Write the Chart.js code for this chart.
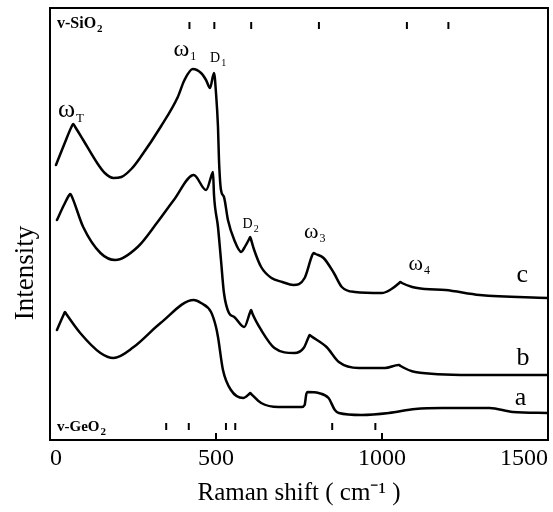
<!DOCTYPE html>
<html><head><meta charset="utf-8">
<script src="https://cdn.jsdelivr.net/npm/chart.js@4"></script>
<style>html,body{margin:0;padding:0;background:#fff}#wrap{width:553px;height:512px}</style>
</head><body><div id="wrap"><canvas id="c" width="553" height="512"></canvas></div>
<script>
// Raman shift (cm-1) and intensity (arbitrary units, offset curves)
const shiftC = [18, 42, 66, 70, 76, 100, 142, 165, 191, 215, 245, 273, 333, 385, 405, 430, 455, 470, 482, 494, 500, 506, 509, 515, 524, 536, 555, 576, 585, 600, 603, 606, 615, 636, 667, 700, 733, 767, 790, 794, 800, 824, 855, 879, 918, 1000, 1024, 1052, 1055, 1060, 1091, 1130, 1191, 1294, 1500];
const intensityC = [275, 295, 314, 316, 313, 300, 277, 267, 262, 263, 271, 283, 313, 343, 360, 371, 367, 360, 352, 367, 347, 313, 280, 250, 243, 220, 200, 188, 192, 201, 203, 200, 190, 173, 162, 158, 155, 162, 185, 187, 186, 182, 167, 153, 148, 147, 150, 157, 158, 157, 153, 151, 150, 145, 142];

const shiftB = [21, 42, 58, 61, 65, 100, 152, 197, 264, 324, 373, 433, 470, 488, 491, 494, 506, 515, 524, 539, 555, 585, 603, 606, 609, 636, 676, 736, 764, 779, 782, 786, 833, 870, 930, 1009, 1050, 1052, 1056, 1100, 1264, 1500];
const intensityB = [220, 235, 245, 246, 244, 213, 187, 180, 193, 218, 240, 265, 250, 266, 268, 245, 213, 180, 147, 127, 123, 113, 128, 130, 127, 110, 92, 87, 92, 103, 105, 104, 93, 78, 72, 72, 75, 75, 74, 68, 65, 65];

const shiftA = [21, 42, 45, 49, 91, 152, 191, 252, 333, 433, 455, 485, 500, 506, 521, 545, 582, 600, 603, 606, 636, 688, 758, 767, 772, 776, 809, 839, 858, 870, 939, 1021, 1100, 1182, 1324, 1394, 1500];
const intensityA = [110, 126, 128, 126, 107, 87, 82, 93, 117, 140, 137, 128, 113, 103, 70, 50, 42, 46, 47, 46, 37, 33, 33, 35, 46, 48, 47, 42, 30, 27, 25, 27, 31, 32, 32, 28, 27];

const sio2Bands = [420, 495, 606, 810, 1075, 1200];
const geo2Bands = [350, 418, 530, 558, 850, 980];
const xTickValues = [0, 500, 1000, 1500];
const innerTicks = [500, 1000];

const SERIF = '"Liberation Serif", "Times New Roman", serif';

function pts(xs, ys) { return xs.map((x, i) => ({x: x, y: ys[i]})); }

const annotations = [
  {main: 'ω', sub: 'T', x: 24, y: 323, size: 26, subSize: 13},
  {main: 'ω', sub: '1', x: 372, y: 384, size: 24, subSize: 12},
  {main: 'D', sub: '1', x: 482, y: 378, size: 14, subSize: 10},
  {main: 'D', sub: '2', x: 580, y: 212, size: 14, subSize: 10},
  {main: 'ω', sub: '3', x: 765, y: 202, size: 22, subSize: 12},
  {main: 'ω', sub: '4', x: 1080, y: 170, size: 22, subSize: 12},
  {main: 'c', sub: '', x: 1405, y: 158, size: 26, subSize: 12},
  {main: 'b', sub: '', x: 1405, y: 75, size: 26, subSize: 12},
  {main: 'a', sub: '', x: 1400, y: 35, size: 26, subSize: 12}
];

const decor = {
  id: 'decor',
  afterDraw(chart) {
    const ctx = chart.ctx, a = chart.chartArea;
    const xs = chart.scales.x, ys = chart.scales.y;
    ctx.save();
    ctx.strokeStyle = '#000';
    ctx.fillStyle = '#000';
    ctx.lineWidth = 2;
    ctx.strokeRect(a.left, a.top, a.right - a.left, a.bottom - a.top);
    sio2Bands.forEach(v => {
      const x = xs.getPixelForValue(v);
      ctx.beginPath(); ctx.moveTo(x, a.top + 14); ctx.lineTo(x, a.top + 21); ctx.stroke();
    });
    geo2Bands.forEach(v => {
      const x = xs.getPixelForValue(v);
      ctx.beginPath(); ctx.moveTo(x, a.bottom - 17); ctx.lineTo(x, a.bottom - 10); ctx.stroke();
    });
    innerTicks.forEach(v => {
      const x = xs.getPixelForValue(v);
      ctx.beginPath(); ctx.moveTo(x, a.bottom - 7); ctx.lineTo(x, a.bottom); ctx.stroke();
    });
    function sub(main, s, x, y, size, subSize, bold) {
      ctx.textAlign = 'left'; ctx.textBaseline = 'alphabetic';
      ctx.font = (bold ? 'bold ' : '') + size + 'px ' + SERIF;
      ctx.fillText(main, x, y);
      const w = ctx.measureText(main).width;
      if (s) {
        ctx.font = (bold ? 'bold ' : '') + subSize + 'px ' + SERIF;
        ctx.fillText(s, x + w + 1, y + subSize * 0.35);
      }
    }
    sub('v-SiO', '2', a.left + 7, a.top + 20, 16, 11, true);
    sub('v-GeO', '2', a.left + 7, a.bottom - 9, 15, 11, true);
    annotations.forEach(t => {
      sub(t.main, t.sub, xs.getPixelForValue(t.x), ys.getPixelForValue(t.y), t.size, t.subSize, false);
    });
    ctx.translate(26, 273);
    ctx.rotate(-Math.PI / 2);
    ctx.textAlign = 'center'; ctx.textBaseline = 'middle';
    ctx.font = '27px ' + SERIF;
    ctx.fillText('Intensity', 0, 0);
    ctx.restore();
  }
};

const ds = (label, xs, ys) => ({
  label: label, data: pts(xs, ys), borderColor: '#000', borderWidth: 2.5,
  pointRadius: 0, fill: false, cubicInterpolationMode: 'monotone', borderJoinStyle: 'round', borderCapStyle: 'round'
});

new Chart(document.getElementById('c'), {
  type: 'line',
  data: { datasets: [ds('a', shiftA, intensityA), ds('b', shiftB, intensityB), ds('c', shiftC, intensityC)] },
  options: {
    responsive: false, animation: false, devicePixelRatio: 1,
    layout: { padding: { top: 8, right: 5, left: 0, bottom: 0 } },
    plugins: { legend: { display: false }, tooltip: { enabled: false } },
    scales: {
      x: {
        type: 'linear', min: 0, max: 1500,
        afterBuildTicks: s => { s.ticks = xTickValues.map(v => ({value: v})); },
        afterFit: s => { s.height = 72; },
        grid: { display: false, drawTicks: false },
        border: { display: false },
        ticks: { color: '#000', font: { family: SERIF, size: 24 }, align: 'inner', padding: 4, maxRotation: 0, callback: v => String(v) },
        title: { display: true, text: 'Raman shift ( cm⁻¹ )', color: '#000', font: { family: SERIF, size: 25 }, padding: { top: 0, bottom: 4 } }
      },
      y: {
        min: 0, max: 432,
        afterFit: s => { s.width = 50; },
        grid: { display: false, drawTicks: false },
        border: { display: false },
        ticks: { display: false }
      }
    }
  },
  plugins: [decor]
});
</script></body></html>
